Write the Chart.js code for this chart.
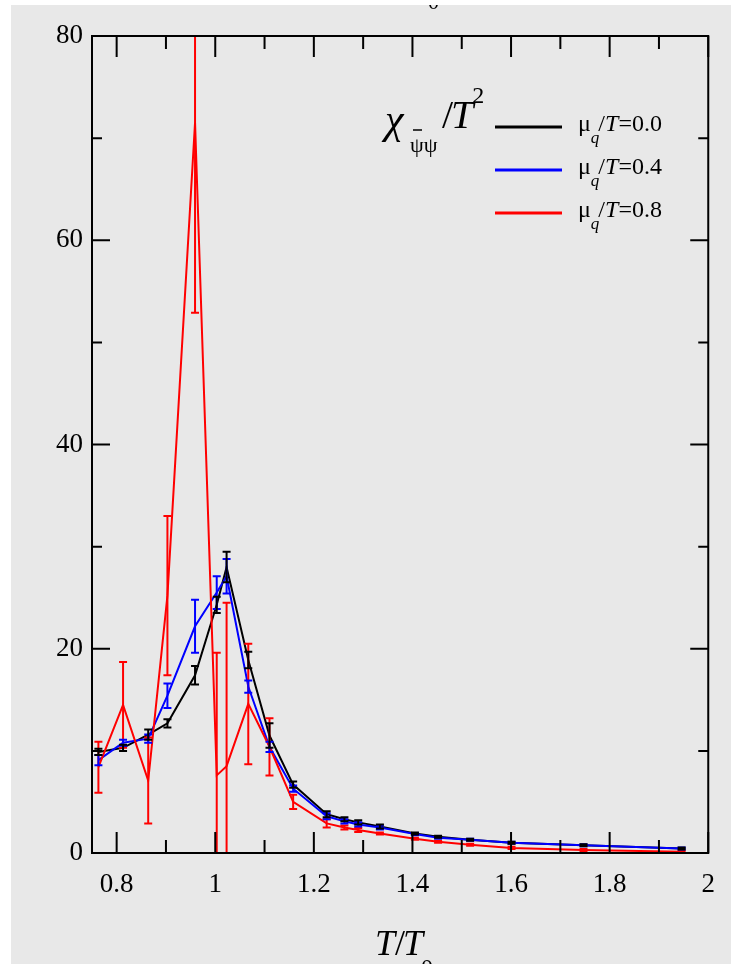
<!DOCTYPE html>
<html>
<head>
<meta charset="utf-8">
<title>chiral susceptibility vs T/T0</title>
<script src="https://cdn.jsdelivr.net/npm/chart.js@4.4.1/dist/chart.umd.min.js"></script>
<style>
    html, body { margin: 0; padding: 0; background: #fff; }
    body { width: 731px; height: 964px; overflow: hidden; position: relative; }
    #wrap { position: absolute; left: 11px; top: 5px; width: 720px; height: 959px; background: #e8e8e8; }
    canvas { display: block; }
</style>
</head>
<body>
<div id="wrap"><canvas id="chiChart" width="720" height="959"></canvas></div>
<script>
// ========== DATA ==========
const temps = [0.763, 0.813, 0.864, 0.903, 0.959, 1.003, 1.023, 1.067, 1.110, 1.158, 1.226, 1.262, 1.290, 1.334, 1.405, 1.452, 1.517, 1.601, 1.747, 1.946];

const chi00 = [9.9, 10.3, 11.6, 12.7, 17.4, 24.3, 28.0, 18.9, 11.5, 6.7, 3.8, 3.3, 3.0, 2.6, 1.9, 1.6, 1.3, 1.0, 0.75, 0.45];
const err00 = [0.3, 0.3, 0.5, 0.4, 0.9, 0.8, 1.5, 0.8, 1.2, 0.3, 0.3, 0.2, 0.2, 0.2, 0.1, 0.1, 0.1, 0.1, 0.1, 0.1];

const chi04 = [9.1, 10.8, 11.2, 15.4, 22.2, 25.5, 27.1, 16.3, 10.4, 6.3, 3.6, 3.1, 2.8, 2.5, 1.85, 1.5, 1.3, 1.0, 0.75, 0.45];
const err04 = [0.5, 0.3, 0.4, 1.2, 2.6, 1.6, 1.7, 0.6, 0.5, 0.3, 0.3, 0.2, 0.2, 0.2, 0.1, 0.1, 0.1, 0.1, 0.1, 0.1];

const chi08 = [8.4, 14.5, 7.1, 25.2, 71.5, 7.6, 8.5, 14.6, 10.4, 5.0, 2.9, 2.5, 2.25, 1.9, 1.4, 1.1, 0.8, 0.5, 0.3, 0.13];
const err08 = [2.5, 4.2, 4.2, 7.8, 18.6, 12.0, 16.0, 5.9, 2.8, 0.7, 0.4, 0.2, 0.2, 0.1, 0.1, 0.1, 0.1, 0.1, 0.1, 0.1];

const muLabels = ['0.0', '0.4', '0.8'];
const lineColors = ['#000000', '#0000ff', '#ff0000'];

const xRange = [0.75, 2.0];
const yRange = [0, 80];
const xStep = 0.2, xMinor = 0.1;
const yStep = 20, yMinor = 10;

const SERIF = '"Liberation Serif", "DejaVu Serif", serif';

// ========== HELPERS ==========
function points(ys) {
    return ys.map((v, i) => ({ x: temps[i], y: v }));
}

function drawRuns(ctx, x, y, runs) {
    runs.forEach(r => {
        ctx.font = r.font;
        ctx.fillText(r.text, x + (r.dx || 0), y + (r.dy || 0));
        x += ctx.measureText(r.text).width + (r.dx || 0) + (r.after || 0);
    });
    return x;
}

// ========== PLUGINS ==========
const errorBars = {
    id: 'errorBars',
    afterDatasetsDraw(chart) {
        const { ctx, chartArea: a, scales: { x, y } } = chart;
        ctx.save();
        ctx.beginPath();
        ctx.rect(a.left, a.top, a.right - a.left, a.bottom - a.top);
        ctx.clip();
        ctx.lineWidth = 2;
        chart.data.datasets.forEach(ds => {
            ctx.strokeStyle = ds.borderColor;
            ds.errors.forEach((e, i) => {
                const px = x.getPixelForValue(temps[i]);
                const top = y.getPixelForValue(ds.data[i].y + e);
                const bot = y.getPixelForValue(ds.data[i].y - e);
                ctx.beginPath();
                ctx.moveTo(px, top); ctx.lineTo(px, bot);
                ctx.moveTo(px - 4, top); ctx.lineTo(px + 4, top);
                ctx.moveTo(px - 4, bot); ctx.lineTo(px + 4, bot);
                ctx.stroke();
            });
        });
        ctx.restore();
    }
};

const frame = {
    id: 'frame',
    afterDraw(chart) {
        const { ctx, chartArea: a, scales: { x, y } } = chart;
        ctx.save();
        ctx.strokeStyle = '#000';
        ctx.lineWidth = 2;
        ctx.strokeRect(a.left, a.top, a.right - a.left, a.bottom - a.top);

        ctx.beginPath();
        // inward ticks on all four sides
        x.ticks.forEach(t => {
            [[t.value, 21], [t.value + xMinor, 13]].forEach(([v, len]) => {
                if (v > x.max + 1e-9) return;
                const px = x.getPixelForValue(v);
                ctx.moveTo(px, a.bottom); ctx.lineTo(px, a.bottom - len);
                ctx.moveTo(px, a.top); ctx.lineTo(px, a.top + len);
            });
        });
        y.ticks.forEach(t => {
            [[t.value, 18], [t.value + yMinor, 10]].forEach(([v, len]) => {
                if (v > y.max + 1e-9) return;
                const py = y.getPixelForValue(v);
                ctx.moveTo(a.left, py); ctx.lineTo(a.left + len, py);
                ctx.moveTo(a.right, py); ctx.lineTo(a.right - len, py);
            });
        });
        ctx.stroke();

        // legend: black 0.0, blue 0.4, red 0.8 from top to bottom
        ctx.fillStyle = '#000';
        ctx.textBaseline = 'alphabetic';
        muLabels.forEach((mu, i) => {
            const ly = 122 + i * 43;
            ctx.strokeStyle = lineColors[i];
            ctx.lineWidth = 3;
            ctx.beginPath();
            ctx.moveTo(484, ly); ctx.lineTo(551, ly);
            ctx.stroke();
            drawRuns(ctx, 567, ly + 4, [
                { text: 'μ', font: '24px ' + SERIF },
                { text: 'q', font: 'italic 17px ' + SERIF, dy: 12, after: -1 },
                { text: '/', font: '24px ' + SERIF },
                { text: 'T', font: 'italic 24px ' + SERIF },
                { text: '=' + mu, font: '24px ' + SERIF }
            ]);
        });

        // quantity label
        ctx.font = 'italic 42px ' + SERIF;
        ctx.fillText('χ', 374, 128);
        ctx.font = '22px ' + SERIF;
        ctx.fillText('ψψ', 399, 147);
        ctx.lineWidth = 1.5;
        ctx.strokeStyle = '#000';
        ctx.beginPath();
        ctx.moveTo(402, 125); ctx.lineTo(411, 125);
        ctx.stroke();
        const endT = drawRuns(ctx, 431, 123, [
            { text: '/', font: '40px ' + SERIF, after: -2 },
            { text: 'T', font: 'italic 40px ' + SERIF }
        ]);
        ctx.font = '24px ' + SERIF;
        ctx.fillText('2', endT - 1, 98);

        // axis title
        const endX = drawRuns(ctx, 364, 950, [
            { text: 'T', font: 'italic 36px ' + SERIF },
            { text: '/', font: '36px ' + SERIF, after: -2 },
            { text: 'T', font: 'italic 36px ' + SERIF }
        ]);
        ctx.font = '24px ' + SERIF;
        ctx.fillText('0', endX - 2, 970);

        // clipped fragment of the title above the frame
        ctx.font = '22px ' + SERIF;
        ctx.fillText('0', 417, 4);
        ctx.restore();
    }
};

// ========== CHART ==========
function initChart() {
    const ctx = document.getElementById('chiChart');
    // red first so it is drawn on top
    const series = [
        { mu: muLabels[2], data: chi08, err: err08, color: lineColors[2] },
        { mu: muLabels[1], data: chi04, err: err04, color: lineColors[1] },
        { mu: muLabels[0], data: chi00, err: err00, color: lineColors[0] }
    ];

    return new Chart(ctx, {
        type: 'line',
        data: {
            datasets: series.map(s => ({
                label: 'μq/T=' + s.mu,
                data: points(s.data),
                errors: s.err,
                borderColor: s.color,
                backgroundColor: s.color,
                borderWidth: 2,
                pointRadius: 0,
                tension: 0,
                fill: false
            }))
        },
        options: {
            responsive: false,
            animation: false,
            devicePixelRatio: 1,
            layout: { padding: { top: 31, right: 22, left: 0, bottom: 0 } },
            plugins: { legend: { display: false }, tooltip: { enabled: false } },
            scales: {
                x: {
                    type: 'linear',
                    min: xRange[0], max: xRange[1],
                    grid: { display: false, drawTicks: false },
                    border: { display: false },
                    ticks: {
                        stepSize: xStep,
                        includeBounds: false,
                        autoSkip: false,
                        maxRotation: 0,
                        padding: 16,
                        color: '#000',
                        font: { family: SERIF, size: 27 },
                        callback: v => String(+v.toFixed(1))
                    },
                    afterFit: s => { s.height = 111; }
                },
                y: {
                    min: yRange[0], max: yRange[1],
                    grid: { display: false, drawTicks: false },
                    border: { display: false },
                    ticks: {
                        stepSize: yStep,
                        padding: 9,
                        color: '#000',
                        font: { family: SERIF, size: 27 }
                    },
                    afterFit: s => { s.width = 81; }
                }
            }
        },
        plugins: [errorBars, frame]
    });
}

document.addEventListener('DOMContentLoaded', initChart);
</script>
</body>
</html>
